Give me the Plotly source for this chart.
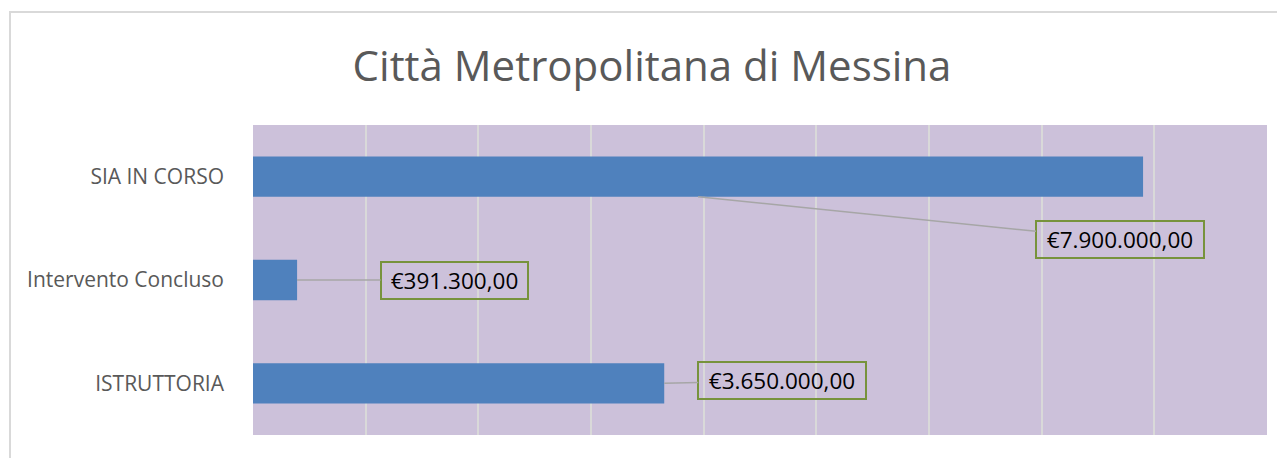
import plotly.graph_objects as go

categories = ["ISTRUTTORIA", "Intervento Concluso", "SIA IN CORSO"]
values = [3650000, 391300, 7900000]
labels = ["€3.650.000,00", "€391.300,00", "€7.900.000,00"]
title = "Città Metropolitana di Messina"

BAR_W = 0.39
FONT = "Open Sans, sans-serif"

fig = go.Figure(go.Bar(
    y=categories, x=values, orientation="h",
    marker=dict(color="#4F81BD", line=dict(width=0)),
    width=BAR_W, hoverinfo="skip",
))

# callout offsets (pixels) and box widths for each label
offsets = [(118, -3), (157, 0), (422, 43)]
box_w = [160, 139, 160]
for i, (cat, v, lab) in enumerate(zip(categories, values, labels)):
    if i == 2:
        ax_x = v / 2
        ay_y = i - BAR_W / 2
    else:
        ax_x = v
        ay_y = i
    fig.add_annotation(
        x=ax_x, y=ay_y, xref="x", yref="y",
        text=lab, showarrow=True, arrowhead=0, arrowwidth=1.5,
        arrowcolor="#A6A6A6", ax=offsets[i][0], ay=offsets[i][1],
        axref="pixel", ayref="pixel",
        width=box_w[i], height=29, align="center", valign="middle",
        bordercolor="#77933C", borderwidth=2, borderpad=3,
        font=dict(family=FONT, size=22.5, color="#000000"),
        bgcolor="rgba(0,0,0,0)", standoff=0, startstandoff=0,
    )

W, H = 1277, 450
L, R, T, B = 245, 18, 117, 23
pw, ph = W - L - R, H - T - B
fig.add_shape(
    type="rect", xref="paper", yref="paper",
    x0=(2 - L) / pw, x1=(1300 - L) / pw,
    y0=(H - B - 470) / ph, y1=(H - B - 4) / ph,
    line=dict(color="#D9D9D9", width=2), fillcolor="rgba(0,0,0,0)", layer="below",
)

fig.update_layout(
    width=W, height=H,
    margin=dict(l=L, r=R, t=T, b=B),
    paper_bgcolor="white", plot_bgcolor="#CCC1DA",
    showlegend=False,
    title=dict(text=title, x=644 / W, xref="container", xanchor="center",
               y=1 - 58 / H, yref="container", yanchor="middle",
               font=dict(family=FONT, size=42, color="#595959")),
    xaxis=dict(range=[0, 9000000], dtick=1000000, showticklabels=False,
               showgrid=True, gridcolor="#D9D9D9", gridwidth=2,
               zeroline=False, showline=False, fixedrange=True),
    yaxis=dict(categoryorder="array", categoryarray=categories,
               showgrid=False, zeroline=False, showline=False,
               ticks="", ticklabelstandoff=28,
               tickfont=dict(family=FONT, size=21, color="#595959")),
    font=dict(family=FONT),
)

fig.write_html("out.html")
